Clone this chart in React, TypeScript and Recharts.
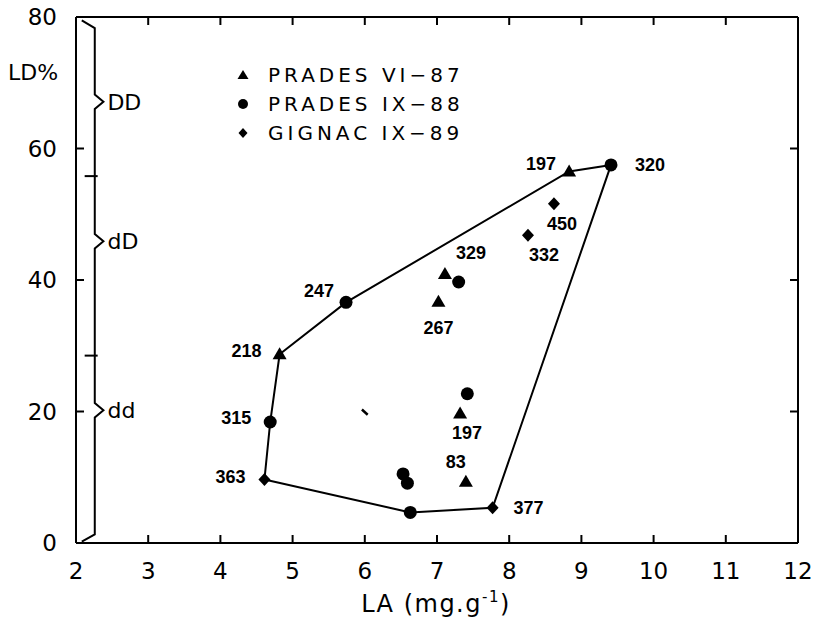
import React from 'react';
import {
  ScatterChart,
  Scatter,
  XAxis,
  YAxis,
  ReferenceLine,
  ReferenceDot,
  Label,
} from 'recharts';

const xTicks = [2, 3, 4, 5, 6, 7, 8, 9, 10, 11, 12];
const yTicks = [0, 20, 40, 60, 80];
const rightTicks = [20, 40, 60];

// PRADES VI-87 (triangles)
const pradesVIx = [4.82, 7.11, 7.02, 7.32, 7.4, 8.83];
const pradesVIy = [28.7, 40.9, 36.7, 19.7, 9.3, 56.5];
const pradesVIlabels = ['218', '329', '267', '197', '83', '197'];

// PRADES IX-88 (circles)
const pradesIXx = [4.69, 5.74, 7.3, 7.42, 6.53, 6.59, 6.63, 9.41];
const pradesIXy = [18.4, 36.6, 39.7, 22.7, 10.5, 9.1, 4.65, 57.5];
const pradesIXlabels = ['315', '247', '', '', '', '', '', '320'];

// GIGNAC IX-89 (diamonds)
const gignacX = [4.61, 7.77, 8.26, 8.62];
const gignacY = [9.65, 5.35, 46.8, 51.6];
const gignacLabels = ['363', '377', '332', '450'];

// envelope around all points
const hullX = [4.61, 4.69, 4.82, 5.74, 8.83, 9.41, 7.77, 6.63, 4.61];
const hullY = [9.65, 18.4, 28.7, 36.6, 56.5, 57.5, 5.35, 4.65, 9.65];

// brace on the left (classes DD / dD / dd)
const braceX = [2.08, 2.26, 2.26, 2.38, 2.26, 2.26, 2.38, 2.26, 2.26, 2.38, 2.26, 2.26, 2.08];
const braceY = [79.5, 78.3, 68.2, 67.1, 66.0, 47.0, 45.9, 44.8, 21.3, 20.2, 19.1, 1.3, 0.2];
const braceBounds = [55.8, 28.5];
const classNames = ['DD', 'dD', 'dd'];
const classY = [67.1, 45.9, 20.2];

// label offsets in px (dx, dy) relative to each marker
const pradesVIoff = [[-33, -3], [26, -21], [0, 26], [7, 20], [-10, -20], [-28, -8]];
const pradesIXoff = [[-34, -4], [-27, -11], [0, 0], [0, 0], [0, 0], [0, 0], [0, 0], [39, 0]];
const gignacOff = [[-34, -3], [36, 0], [16, 20], [8, 20]];

const toPoints = (xs: number[], ys: number[], labels?: string[], off?: number[][]) =>
  xs.map((x, i) => ({ x, y: ys[i], label: labels ? labels[i] : '', off: off ? off[i] : [0, 0] }));

const trianglePts = toPoints(pradesVIx, pradesVIy, pradesVIlabels, pradesVIoff);
const circlePts = toPoints(pradesIXx, pradesIXy, pradesIXlabels, pradesIXoff);
const diamondPts = toPoints(gignacX, gignacY, gignacLabels, gignacOff);
const hullPts = toPoints(hullX, hullY);
const bracePts = toPoints(braceX, braceY);

const FONT = '"DejaVu Sans", sans-serif';
const LABEL_FONT = '"Liberation Sans", Arial, sans-serif';

const PointLabel = ({ cx, cy, payload }: any) =>
  payload.label ? (
    <text
      x={cx + payload.off[0]}
      y={cy + payload.off[1]}
      textAnchor="middle"
      dominantBaseline="central"
      fontFamily={LABEL_FONT}
      fontWeight="bold"
      fontSize={18}
      fill="#000"
    >
      {payload.label}
    </text>
  ) : null;

const TriangleShape = (props: any) => {
  const { cx, cy } = props;
  return (
    <g>
      <polygon points={`${cx},${cy - 7} ${cx - 7},${cy + 5} ${cx + 7},${cy + 5}`} fill="#000" />
      <PointLabel {...props} />
    </g>
  );
};

const CircleShape = (props: any) => {
  const { cx, cy } = props;
  return (
    <g>
      <circle cx={cx} cy={cy} r={6.5} fill="#000" />
      <PointLabel {...props} />
    </g>
  );
};

const DiamondShape = (props: any) => {
  const { cx, cy } = props;
  return (
    <g>
      <polygon points={`${cx},${cy - 6.5} ${cx + 6},${cy} ${cx},${cy + 6.5} ${cx - 6},${cy}`} fill="#000" />
      <PointLabel {...props} />
    </g>
  );
};

const NoShape = () => <g />;

const legendItems = [
  { name: 'PRADES VI\u221287', icon: 'triangle' },
  { name: 'PRADES IX\u221288', icon: 'circle' },
  { name: 'GIGNAC IX\u221289', icon: 'diamond' },
];

const LegendIcon = ({ icon }: { icon: string }) => (
  <svg width={14} height={14} style={{ marginRight: 18 }}>
    {icon === 'triangle' && <polygon points="7,2 1.5,11 12.5,11" fill="#000" />}
    {icon === 'circle' && <circle cx={7} cy={7} r={5} fill="#000" />}
    {icon === 'diamond' && <polygon points="7,2 11.5,7 7,12 2.5,7" fill="#000" />}
  </svg>
);

export default function App() {
  const axisStyle = { fontFamily: FONT, fontSize: 23, fill: '#000' };
  return (
    <div style={{ position: 'absolute', left: 0, top: 0, width: 819, height: 628, background: '#fff' }}>
      <ScatterChart width={819} height={628} margin={{ top: 16, right: 20, bottom: 0, left: 0 }}>
        <XAxis
          type="number"
          dataKey="x"
          domain={[2, 12]}
          ticks={xTicks}
          allowDataOverflow
          height={85}
          tickSize={-8}
          tickMargin={28}
          stroke="#000"
          strokeWidth={2}
          tick={axisStyle}
        >
          <Label
            content={() => (
              <text x={436} y={612} textAnchor="middle" fontFamily={FONT} fontSize={24} letterSpacing={1.5} fill="#000">
                LA (mg.g
                <tspan dy={-10} fontSize={15}>-1</tspan>
                <tspan dy={10}>)</tspan>
              </text>
            )}
          />
        </XAxis>
        <XAxis
          xAxisId="top"
          orientation="top"
          type="number"
          dataKey="x"
          domain={[2, 12]}
          ticks={xTicks}
          allowDataOverflow
          height={1}
          tickSize={-8}
          tickFormatter={() => ''}
          stroke="#000"
          strokeWidth={2}
        />
        <YAxis
          type="number"
          dataKey="y"
          domain={[0, 80]}
          ticks={yTicks}
          allowDataOverflow
          width={76}
          tickSize={-8}
          tickMargin={27}
          stroke="#000"
          strokeWidth={2}
          tick={axisStyle}
        >
          <Label
            content={() => (
              <text x={8} y={80} fontFamily={FONT} fontSize={22} fill="#000">
                LD%
              </text>
            )}
          />
        </YAxis>
        <YAxis
          yAxisId="right"
          orientation="right"
          type="number"
          dataKey="y"
          domain={[0, 80]}
          ticks={rightTicks}
          allowDataOverflow
          width={1}
          tickSize={-8}
          tickFormatter={() => ''}
          stroke="#000"
          strokeWidth={2}
        />

        {braceBounds.map((b) => (
          <ReferenceLine
            key={b}
            segment={[{ x: 2.12, y: b }, { x: 2.3, y: b }]}
            stroke="#000"
            strokeWidth={2}
            ifOverflow="visible"
          />
        ))}
        <ReferenceLine
          segment={[{ x: 5.96, y: 20.3 }, { x: 6.04, y: 19.5 }]}
          stroke="#000"
          strokeWidth={2.5}
        />
        {classNames.map((c, i) => (
          <ReferenceDot
            key={c}
            x={2.38}
            y={classY[i]}
            r={0}
            stroke="none"
            fill="none"
            ifOverflow="visible"
            label={{ value: c, position: 'right', offset: 4, fontFamily: FONT, fontSize: 22, fill: '#000' }}
          />
        ))}

        <Scatter
          data={bracePts}
          line={{ stroke: '#000', strokeWidth: 2 }}
          shape={NoShape}
          isAnimationActive={false}
        />
        <Scatter
          data={hullPts}
          line={{ stroke: '#000', strokeWidth: 2 }}
          shape={NoShape}
          isAnimationActive={false}
        />
        <Scatter name="PRADES VI-87" data={trianglePts} shape={TriangleShape} isAnimationActive={false} />
        <Scatter name="PRADES IX-88" data={circlePts} shape={CircleShape} isAnimationActive={false} />
        <Scatter name="GIGNAC IX-89" data={diamondPts} shape={DiamondShape} isAnimationActive={false} />
      </ScatterChart>

      <div style={{ position: 'absolute', left: 236, top: 60, fontFamily: FONT, fontSize: 20, letterSpacing: 4 }}>
        {legendItems.map((it) => (
          <div key={it.name} style={{ display: 'flex', alignItems: 'center', height: 29 }}>
            <LegendIcon icon={it.icon} />
            <span>{it.name}</span>
          </div>
        ))}
      </div>
    </div>
  );
}
